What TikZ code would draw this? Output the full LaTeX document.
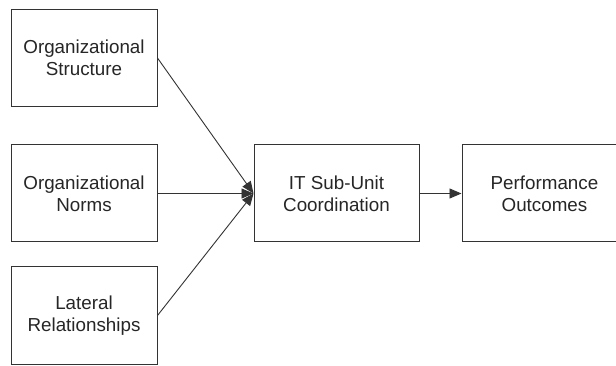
\documentclass[tikz,border=0pt]{standalone}
\usepackage{fontspec}
\setmainfont{Liberation Sans}
\usetikzlibrary{arrows.meta}
\begin{document}
\begin{tikzpicture}[x=1pt,y=-1pt,
  box/.style={draw=black!80, line width=1pt, fill=white, minimum height=97pt, align=center,
    text=black!85, font=\fontsize{18.8}{22}\selectfont, inner sep=0pt},
  conn/.style={draw=black!80, line width=0.9pt, -{Triangle[length=12pt,width=10pt]}}]
\useasboundingbox (0,0) rectangle (616,366);
\clip (0,0) rectangle (616,366);
\fill[white] (0,0) rectangle (616,366);
\node[box, minimum width=146pt] (b1) at (84,58) {Organizational\\Structure};
\node[box, minimum width=146pt] (b2) at (84,193.5) {Organizational\\Norms};
\node[box, minimum width=146pt] (b3) at (84,315.5) {Lateral\\Relationships};
\node[box, minimum width=165pt] (mid) at (336.5,193.5) {IT Sub-Unit\\Coordination};
\node[box, minimum width=165pt] (perf) at (544.5,193.5) {Performance\\Outcomes};
\draw[conn] (b1.east) -- (mid.west);
\draw[conn] (b2.east) -- (mid.west);
\draw[conn] (b3.east) -- (mid.west);
\draw[conn] (mid.east) -- (perf.west);
\end{tikzpicture}
\end{document}
